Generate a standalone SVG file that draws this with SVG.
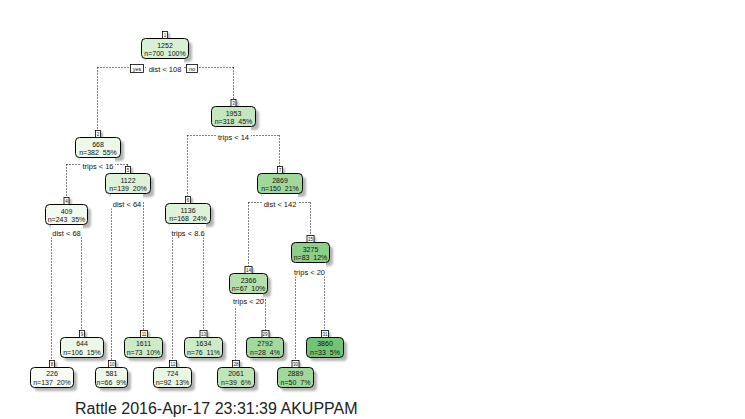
<svg xmlns="http://www.w3.org/2000/svg" width="745" height="419" viewBox="0 0 745 419">
<defs>
<filter id="blur" x="-20%" y="-20%" width="140%" height="140%"><feGaussianBlur stdDeviation="1.1"/></filter>
</defs>
<style>
.bg{fill:#ffffff}
.con path{fill:none;stroke:#000;stroke-width:1;stroke-dasharray:1,2}
.sh{fill:#b4b4b4;filter:url(#blur)}
.box{stroke:#000;stroke-width:1}
.lb{fill:#fff;stroke:#000;stroke-width:0.8}
.sbg{fill:#fff}
.t{font-family:"Liberation Sans",Arial,sans-serif;font-size:7px;fill:#111;text-anchor:middle;white-space:pre}
.s{font-family:"Liberation Sans",Arial,sans-serif;font-size:7.5px;fill:#111;text-anchor:middle}
.n{font-family:"Liberation Sans",Arial,sans-serif;font-size:4.5px;fill:#111;text-anchor:middle}
.yn{font-family:"Liberation Sans",Arial,sans-serif;font-size:5.5px;fill:#111;text-anchor:middle}
.foot{font-family:"Liberation Sans",Arial,sans-serif;font-size:16px;fill:#222}
</style>
<rect class="bg" x="0" y="0" width="745" height="419"/>

<g id="connectors" class="con">
<path d="M97.5,67.5H233.5M97.5,67.5V130M233.5,67.5V99"/>
<path d="M66.5,164.5H127.5M66.5,164.5V197M127.5,164.5V166"/>
<path d="M187.5,135.5H279.5M187.5,135.5V196M279.5,135.5V166"/>
<path d="M51.5,231.5H81.5M51.5,231.5V360M81.5,231.5V330"/>
<path d="M111.5,202.5H143.5M111.5,202.5V360M143.5,202.5V330"/>
<path d="M172.5,231.5H203.5M172.5,231.5V360M203.5,231.5V330"/>
<path d="M248.5,202.5H310.5M248.5,202.5V266M310.5,202.5V235"/>
<path d="M235.5,299.5H265.5M235.5,299.5V360M265.5,299.5V330"/>
<path d="M295.5,270.5H324.5M295.5,270.5V360M324.5,270.5V330"/>
</g>

<g id="yesno">
<rect x="130.5" y="64.5" width="13" height="8" class="lb"/>
<text x="137" y="70.5" class="yn">yes</text>
<rect x="186.5" y="64.5" width="11" height="8" class="lb"/>
<text x="192" y="70.5" class="yn">no</text>
</g>

<g id="node1">
<rect x="145" y="42" width="47" height="20" rx="4" class="sh"/>
<rect x="165" y="33" width="5" height="7" class="sh"/>
<rect x="146" y="58.5" width="38" height="14" class="sbg"/>
<rect x="141.5" y="38.5" width="47" height="20" rx="4" class="box" fill="#daf0d4"/>
<rect x="162.5" y="31.5" width="5" height="7" class="lb"/>
<text x="165" y="37" class="n">1</text>
<text x="165" y="47.5" class="t">1252</text>
<text x="165" y="56" class="t">n=700  100%</text>
<text x="165" y="71.5" class="s">dist &lt; 108</text>
</g>

<g id="node2">
<rect x="79" y="141" width="45" height="20" rx="4" class="sh"/>
<rect x="98" y="132" width="5" height="7" class="sh"/>
<rect x="80" y="157.5" width="35" height="13" class="sbg"/>
<rect x="75.5" y="137.5" width="45" height="20" rx="4" class="box" fill="#edf8e9"/>
<rect x="95.5" y="130.5" width="5" height="7" class="lb"/>
<text x="98" y="136" class="n">2</text>
<text x="98" y="146.5" class="t">668</text>
<text x="98" y="155" class="t">n=382  55%</text>
<text x="98" y="168.5" class="s">trips &lt; 16</text>
</g>

<g id="node3">
<rect x="215" y="110" width="44" height="20" rx="4" class="sh"/>
<rect x="233.5" y="101" width="5" height="7" class="sh"/>
<rect x="216" y="126.5" width="35" height="15" class="sbg"/>
<rect x="211.5" y="106.5" width="44" height="20" rx="4" class="box" fill="#c4e7bd"/>
<rect x="231" y="99.5" width="5" height="7" class="lb"/>
<text x="233.5" y="105" class="n">3</text>
<text x="233.5" y="115.5" class="t">1953</text>
<text x="233.5" y="124" class="t">n=318  45%</text>
<text x="233.5" y="139.5" class="s">trips &lt; 14</text>
</g>

<g id="node4">
<rect x="49" y="208" width="42" height="20" rx="4" class="sh"/>
<rect x="66.5" y="199" width="5" height="7" class="sh"/>
<rect x="51" y="224.5" width="32" height="13" class="sbg"/>
<rect x="45.5" y="204.5" width="42" height="20" rx="4" class="box" fill="#f2faef"/>
<rect x="64" y="197.5" width="5" height="7" class="lb"/>
<text x="66.5" y="203" class="n">4</text>
<text x="66.5" y="213.5" class="t">409</text>
<text x="66.5" y="222" class="t">n=243  35%</text>
<text x="66.5" y="235.5" class="s">dist &lt; 68</text>
</g>

<g id="node5">
<rect x="109" y="177" width="45" height="20" rx="4" class="sh"/>
<rect x="128" y="168" width="5" height="7" class="sh"/>
<rect x="111" y="193.5" width="32" height="15" class="sbg"/>
<rect x="105.5" y="173.5" width="45" height="20" rx="4" class="box" fill="#def2d9"/>
<rect x="125.5" y="166.5" width="5" height="7" class="lb"/>
<text x="128" y="172" class="n">5</text>
<text x="128" y="182.5" class="t">1122</text>
<text x="128" y="191" class="t">n=139  20%</text>
<text x="127" y="206.5" class="s">dist &lt; 64</text>
</g>

<g id="node6">
<rect x="169" y="207" width="45" height="20" rx="4" class="sh"/>
<rect x="188" y="198" width="5" height="7" class="sh"/>
<rect x="170" y="223.5" width="36" height="14" class="sbg"/>
<rect x="165.5" y="203.5" width="45" height="20" rx="4" class="box" fill="#def2d9"/>
<rect x="185.5" y="196.5" width="5" height="7" class="lb"/>
<text x="188" y="202" class="n">6</text>
<text x="188" y="212.5" class="t">1136</text>
<text x="188" y="221" class="t">n=168  24%</text>
<text x="188" y="235.5" class="s">trips &lt; 8.6</text>
</g>

<g id="node7">
<rect x="261" y="177" width="45" height="20" rx="4" class="sh"/>
<rect x="280" y="168" width="5" height="7" class="sh"/>
<rect x="262" y="193.5" width="36" height="15" class="sbg"/>
<rect x="257.5" y="173.5" width="45" height="20" rx="4" class="box" fill="#a0d89b"/>
<rect x="277.5" y="166.5" width="5" height="7" class="lb"/>
<text x="280" y="172" class="n">7</text>
<text x="280" y="182.5" class="t">2869</text>
<text x="280" y="191" class="t">n=150  21%</text>
<text x="280" y="206.5" class="s">dist &lt; 142</text>
</g>

<g id="node8">
<rect x="34" y="371" width="43" height="20" rx="4" class="sh"/>
<rect x="52" y="362" width="5" height="7" class="sh"/>
<rect x="30.5" y="367.5" width="43" height="20" rx="4" class="box" fill="#f7fcf5"/>
<rect x="49.5" y="360.5" width="5" height="7" class="lb"/>
<text x="52" y="366" class="n">8</text>
<text x="52" y="376" class="t">226</text>
<text x="52" y="384.5" class="t">n=137  20%</text>
</g>

<g id="node9">
<rect x="64" y="341" width="43" height="20" rx="4" class="sh"/>
<rect x="82" y="332" width="5" height="7" class="sh"/>
<rect x="60.5" y="337.5" width="43" height="20" rx="4" class="box" fill="#ecf7e8"/>
<rect x="79.5" y="330.5" width="5" height="7" class="lb"/>
<text x="82" y="336" class="n">9</text>
<text x="82" y="346" class="t">644</text>
<text x="82" y="354.5" class="t">n=106  15%</text>
</g>

<g id="node10">
<rect x="99" y="371" width="32" height="20" rx="4" class="sh"/>
<rect x="111" y="362" width="7" height="7" class="sh"/>
<rect x="95.5" y="367.5" width="32" height="20" rx="4" class="box" fill="#edf8e9"/>
<rect x="108.5" y="360.5" width="7" height="7" class="lb"/>
<text x="112" y="366" class="n">10</text>
<text x="111.5" y="376" class="t">581</text>
<text x="111.5" y="384.5" class="t">n=66  9%</text>
</g>

<g id="node11">
<rect x="128" y="341" width="38" height="20" rx="4" class="sh"/>
<rect x="143" y="332" width="7" height="7" class="sh"/>
<rect x="124.5" y="337.5" width="38" height="20" rx="4" class="box" fill="#cdebc6"/>
<rect x="140.5" y="330.5" width="7" height="7" class="lb"/>
<text x="144" y="336" class="n">11</text>
<text x="143.5" y="346" class="t">1611</text>
<text x="143.5" y="354.5" class="t">n=73  10%</text>
</g>

<g id="node12">
<rect x="157" y="371" width="38" height="20" rx="4" class="sh"/>
<rect x="172" y="362" width="7" height="7" class="sh"/>
<rect x="153.5" y="367.5" width="38" height="20" rx="4" class="box" fill="#e8f6e4"/>
<rect x="169.5" y="360.5" width="7" height="7" class="lb"/>
<text x="173" y="366" class="n">12</text>
<text x="172.5" y="376" class="t">724</text>
<text x="172.5" y="384.5" class="t">n=92  13%</text>
</g>

<g id="node13">
<rect x="188" y="341" width="38" height="20" rx="4" class="sh"/>
<rect x="202" y="332" width="7" height="7" class="sh"/>
<rect x="184.5" y="337.5" width="38" height="20" rx="4" class="box" fill="#cdebc6"/>
<rect x="200" y="330.5" width="7" height="7" class="lb"/>
<text x="203.5" y="336" class="n">13</text>
<text x="203.5" y="346" class="t">1634</text>
<text x="203.5" y="354.5" class="t">n=76  11%</text>
</g>

<g id="node14">
<rect x="233" y="277" width="38" height="20" rx="4" class="sh"/>
<rect x="247" y="268" width="7" height="7" class="sh"/>
<rect x="233" y="293.5" width="30" height="13" class="sbg"/>
<rect x="229.5" y="273.5" width="38" height="20" rx="4" class="box" fill="#b3e0ac"/>
<rect x="245" y="266.5" width="7" height="7" class="lb"/>
<text x="248.5" y="272" class="n">14</text>
<text x="248.5" y="282.5" class="t">2366</text>
<text x="248.5" y="291" class="t">n=67  10%</text>
<text x="248.5" y="303.5" class="s">trips &lt; 20</text>
</g>

<g id="node15">
<rect x="295" y="246" width="38" height="20" rx="4" class="sh"/>
<rect x="309" y="237" width="7" height="7" class="sh"/>
<rect x="293" y="262.5" width="33" height="14" class="sbg"/>
<rect x="291.5" y="242.5" width="38" height="20" rx="4" class="box" fill="#8dcf89"/>
<rect x="307" y="235.5" width="7" height="7" class="lb"/>
<text x="310.5" y="241" class="n">15</text>
<text x="310.5" y="251.5" class="t">3275</text>
<text x="310.5" y="260" class="t">n=83  12%</text>
<text x="309.5" y="274.5" class="s">trips &lt; 20</text>
</g>

<g id="node28">
<rect x="221" y="371" width="37" height="20" rx="4" class="sh"/>
<rect x="235" y="362" width="7" height="7" class="sh"/>
<rect x="217.5" y="367.5" width="37" height="20" rx="4" class="box" fill="#c0e5b9"/>
<rect x="232.5" y="360.5" width="7" height="7" class="lb"/>
<text x="236" y="366" class="n">28</text>
<text x="236" y="376" class="t">2061</text>
<text x="236" y="384.5" class="t">n=39  6%</text>
</g>

<g id="node29">
<rect x="250" y="341" width="37" height="20" rx="4" class="sh"/>
<rect x="264" y="332" width="7" height="7" class="sh"/>
<rect x="246.5" y="337.5" width="37" height="20" rx="4" class="box" fill="#a3d99d"/>
<rect x="262" y="330.5" width="7" height="7" class="lb"/>
<text x="265" y="336" class="n">29</text>
<text x="265" y="346" class="t">2792</text>
<text x="265" y="354.5" class="t">n=28  4%</text>
</g>

<g id="node30">
<rect x="281" y="371" width="36" height="20" rx="4" class="sh"/>
<rect x="294" y="362" width="7" height="7" class="sh"/>
<rect x="277.5" y="367.5" width="36" height="20" rx="4" class="box" fill="#a0d89a"/>
<rect x="292" y="360.5" width="7" height="7" class="lb"/>
<text x="295.5" y="366" class="n">30</text>
<text x="295.5" y="376" class="t">2889</text>
<text x="295.5" y="384.5" class="t">n=50  7%</text>
</g>

<g id="node31">
<rect x="310" y="341" width="37" height="20" rx="4" class="sh"/>
<rect x="323.5" y="332" width="7" height="7" class="sh"/>
<rect x="306.5" y="337.5" width="37" height="20" rx="4" class="box" fill="#72c374"/>
<rect x="321.5" y="330.5" width="7" height="7" class="lb"/>
<text x="325" y="336" class="n">31</text>
<text x="325" y="346" class="t">3860</text>
<text x="325" y="354.5" class="t">n=33  5%</text>
</g>

<text x="75" y="414" class="foot">Rattle 2016-Apr-17 23:31:39 AKUPPAM</text>
</svg>
